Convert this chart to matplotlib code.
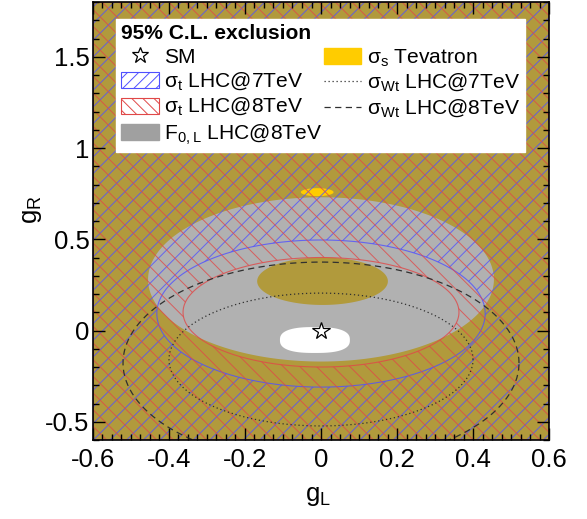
import numpy as np
import matplotlib
matplotlib.use('Agg')
import matplotlib.pyplot as plt
from matplotlib.path import Path
from matplotlib.patches import PathPatch, Patch
from matplotlib.lines import Line2D
from matplotlib.ticker import MultipleLocator, FuncFormatter

plt.rcParams['font.family'] = ['Liberation Sans', 'DejaVu Sans']
plt.rcParams['mathtext.fontset'] = 'custom'
plt.rcParams['mathtext.rm'] = 'Liberation Sans'
plt.rcParams['axes.unicode_minus'] = False
plt.rcParams['hatch.linewidth'] = 0.7

# axis ranges
x_lim = [-0.6, 0.6]
y_lim = [-0.6, 1.8]

# contours: [centre gL, centre gR, half-width, half-height]
tev_outer = [0.0, 0.28, 0.455, 0.45]      # sigma_s Tevatron, outer edge of allowed band
tev_inner = [0.004, 0.27, 0.172, 0.13]    # sigma_s Tevatron, excluded island inside
sigt_7 = [0.0, 0.093, 0.432, 0.403]       # sigma_t LHC@7TeV allowed
sigt_8 = [0.0, 0.10, 0.363, 0.30]         # sigma_t LHC@8TeV allowed
sigwt_7 = [0.0, -0.159, 0.40, 0.364]      # sigma_Wt LHC@7TeV
sigwt_8 = [0.0, -0.178, 0.521, 0.553]     # sigma_Wt LHC@8TeV
f0l_main = [-0.016, -0.052, 0.092, 0.071] # F0,L allowed (main)
f0l_top = [-0.01, 0.758, 0.043, 0.022]    # F0,L allowed (small island)
sm_point = [0.0, 0.0]

gold = '#ffcc00'
gray = '#707070'
blue = '#5050ff'
red = '#e04848'


def ellipse_xy(c, n=300, power=2.0):
    t = np.linspace(0, 2 * np.pi, n)
    ct, st = np.cos(t), np.sin(t)
    x = c[0] + c[2] * np.sign(ct) * np.abs(ct) ** (2 / power)
    y = c[1] + c[3] * np.sign(st) * np.abs(st) ** (2 / power)
    return x, y


def ring(x, y):
    verts = list(zip(x, y))
    codes = [Path.MOVETO] + [Path.LINETO] * (len(verts) - 2) + [Path.CLOSEPOLY]
    return verts, codes


def build_path(holes=(), islands=(), powers=None):
    # axes rectangle minus holes, plus islands sitting inside holes
    rx = [x_lim[0], x_lim[1], x_lim[1], x_lim[0], x_lim[0]]
    ry = [y_lim[0], y_lim[0], y_lim[1], y_lim[1], y_lim[0]]
    verts, codes = ring(rx, ry)
    for k, h in enumerate(holes):
        p = powers[k] if powers else 2.0
        hx, hy = ellipse_xy(h, power=p)
        v, c = ring(hx[::-1], hy[::-1])
        verts += v
        codes += c
    for i in islands:
        ix, iy = ellipse_xy(i)
        v, c = ring(ix, iy)
        verts += v
        codes += c
    return Path(verts, codes)


fig = plt.figure(figsize=(5.87, 5.19), dpi=100)
ax = fig.add_axes([0.1584, 0.1522, 0.7769, 0.8439])
ax.set_xlim(x_lim)
ax.set_ylim(y_lim)

# Tevatron exclusion
ax.add_patch(PathPatch(build_path([tev_outer], [tev_inner]), facecolor=gold,
                       edgecolor='none', zorder=1))
# F0,L exclusion
ax.add_patch(PathPatch(build_path([f0l_main, f0l_top], powers=[2.6, 2.0]),
                       facecolor=gray, alpha=0.54, edgecolor='none', zorder=1.1))
# sigma_t exclusions (hatched)
ax.add_patch(PathPatch(build_path([sigt_7]), facecolor='none', edgecolor=blue,
                       hatch='//', lw=0.8, alpha=0.8, zorder=1.2))
ax.add_patch(PathPatch(build_path([sigt_8]), facecolor='none', edgecolor=red,
                       hatch='\\\\', lw=0.8, alpha=0.8, zorder=1.3))

# sigma_Wt contours
x7, y7 = ellipse_xy(sigwt_7)
ax.plot(x7, y7, ls=(0, (1, 2.2)), color='#303030', lw=0.9, zorder=2)
x8, y8 = ellipse_xy(sigwt_8)
ax.plot(x8, y8, ls=(0, (5, 3.5)), color='#303030', lw=0.9, zorder=2)

ax.plot(sm_point[0], sm_point[1], marker='*', ms=13, mfc='white', mec='black',
        mew=0.9, ls='none', zorder=3)

# axes styling
ax.xaxis.set_major_locator(MultipleLocator(0.2))
ax.xaxis.set_minor_locator(MultipleLocator(0.025))
ax.yaxis.set_major_locator(MultipleLocator(0.5))
ax.yaxis.set_minor_locator(MultipleLocator(0.1))
fmt = FuncFormatter(lambda v, p: f'{round(v, 6) + 0.0:g}')
ax.xaxis.set_major_formatter(fmt)
ax.yaxis.set_major_formatter(fmt)
ax.tick_params(which='both', direction='in', top=True, right=True, width=1.0)
ax.tick_params(which='major', length=8.6, labelsize=18.5)
ax.tick_params(which='minor', length=4.3)
ax.tick_params(axis='x', pad=5.5)
ax.tick_params(axis='y', pad=2.5)
for s in ax.spines.values():
    s.set_linewidth(1.2)
    s.set_zorder(4)

ax.set_xlabel(r'g$_\mathregular{L}$', fontsize=18.5)
ax.set_ylabel(r'g$_\mathregular{R}$', fontsize=18.5)
ax.xaxis.set_label_coords(0.493, -0.1)
ax.yaxis.set_label_coords(-0.108, 0.525)

handles = [
    Line2D([], [], marker='*', ms=12, mfc='white', mec='black', mew=0.9, ls='none'),
    Patch(facecolor='white', edgecolor=blue, hatch='///', lw=0.8),
    Patch(facecolor='white', edgecolor=red, hatch='\\\\\\', lw=0.8),
    Patch(facecolor='#a0a0a0', edgecolor='#a0a0a0'),
    Patch(facecolor=gold, edgecolor=gold),
    Line2D([], [], ls=(0, (1, 2.2)), color='#303030', lw=0.9),
    Line2D([], [], ls=(0, (5, 3.5)), color='#303030', lw=0.9),
]
labels = [
    'SM',
    r'σ$_\mathregular{t}$ LHC@7TeV',
    r'σ$_\mathregular{t}$ LHC@8TeV',
    r'F$_\mathregular{0,L}$ LHC@8TeV',
    r'σ$_\mathregular{s}$ Tevatron',
    r'σ$_\mathregular{Wt}$ LHC@7TeV',
    r'σ$_\mathregular{Wt}$ LHC@8TeV',
]
leg = ax.legend(handles, labels, ncol=2, loc='upper left',
                bbox_to_anchor=(0.05, 0.671, 0.897, 0.29), mode='expand',
                title='95% C.L. exclusion',
                title_fontproperties={'weight': 'bold', 'size': 15.1},
                alignment='left', fontsize=15.1, frameon=True, fancybox=False,
                edgecolor='white', framealpha=1, borderpad=0.25,
                labelspacing=0.17, handlelength=1.8, handleheight=0.8,
                handletextpad=0.25, borderaxespad=0)
leg.set_zorder(5)

fig.savefig('out.png', dpi=100)
